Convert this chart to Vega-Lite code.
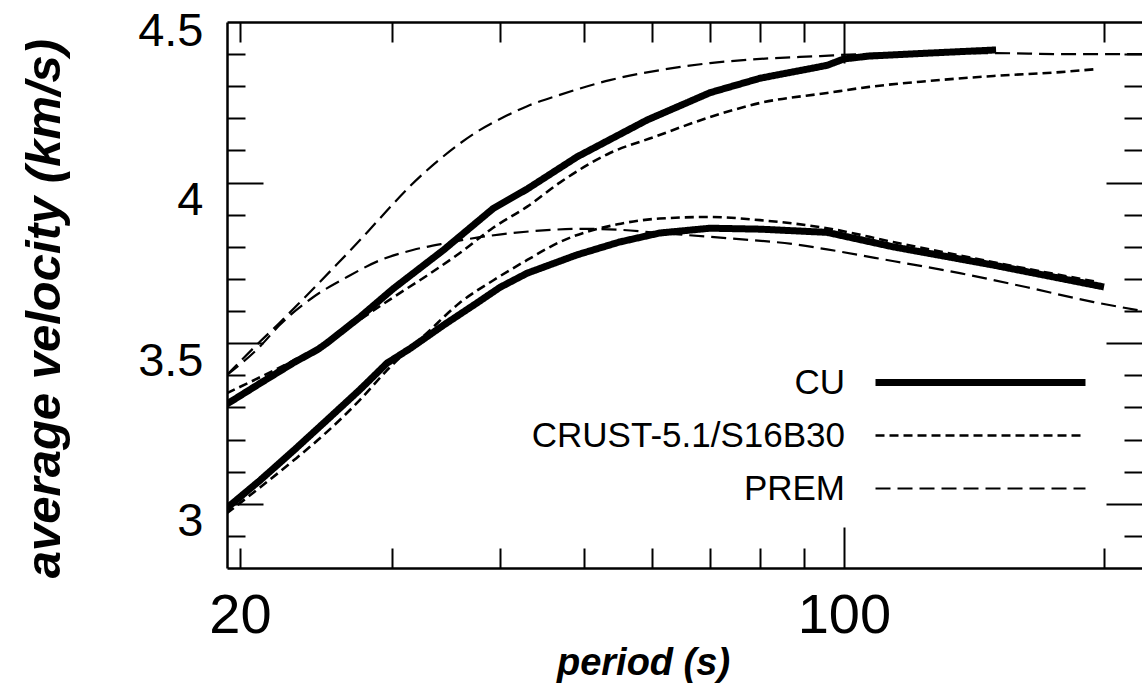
{
  "$schema": "https://vega.github.io/schema/vega-lite/v6.json",
  "width": 915,
  "height": 546,
  "autosize": {"type": "none"},
  "padding": {"left": 227, "top": 22, "right": 0, "bottom": 121},
  "background": "white",
  "config": {
    "view": {"stroke": null},
    "font": "Liberation Sans",
    "axis": {"grid": false, "labelColor": "black", "domainColor": "black", "tickColor": "black", "labelFlush": false, "labelOverlap": false, "labelBound": false, "labelFont": "Liberation Sans", "titleFont": "Liberation Sans", "titleColor": "black"},
    "legend": {"orient": "none", "legendX": 736, "legendY": 343, "title": null, "symbolType": "M-8,0H8", "symbolSize": 689, "symbolStrokeColor": "black", "symbolFillColor": "transparent", "labelAlign": "right", "labelOffset": -153, "labelFontSize": 35, "labelFont": "Liberation Sans", "labelColor": "black", "labelLimit": 500, "rowPadding": 17, "padding": 0}
  },
  "data": {"values": [
    {"model": "CU", "curve": "CU-upper", "period": 19.3, "velocity": 3.31},
    {"model": "CU", "curve": "CU-upper", "period": 21.1, "velocity": 3.375},
    {"model": "CU", "curve": "CU-upper", "period": 23.1, "velocity": 3.44},
    {"model": "CU", "curve": "CU-upper", "period": 24.6, "velocity": 3.48},
    {"model": "CU", "curve": "CU-upper", "period": 25.2, "velocity": 3.5},
    {"model": "CU", "curve": "CU-upper", "period": 27.5, "velocity": 3.58},
    {"model": "CU", "curve": "CU-upper", "period": 30.1, "velocity": 3.67},
    {"model": "CU", "curve": "CU-upper", "period": 32.9, "velocity": 3.75},
    {"model": "CU", "curve": "CU-upper", "period": 34.4, "velocity": 3.79},
    {"model": "CU", "curve": "CU-upper", "period": 39.3, "velocity": 3.92},
    {"model": "CU", "curve": "CU-upper", "period": 43, "velocity": 3.98},
    {"model": "CU", "curve": "CU-upper", "period": 49.1, "velocity": 4.08},
    {"model": "CU", "curve": "CU-upper", "period": 59.2, "velocity": 4.195},
    {"model": "CU", "curve": "CU-upper", "period": 70, "velocity": 4.28},
    {"model": "CU", "curve": "CU-upper", "period": 80, "velocity": 4.325},
    {"model": "CU", "curve": "CU-upper", "period": 95.6, "velocity": 4.365},
    {"model": "CU", "curve": "CU-upper", "period": 100, "velocity": 4.385},
    {"model": "CU", "curve": "CU-upper", "period": 107, "velocity": 4.394},
    {"model": "CU", "curve": "CU-upper", "period": 125, "velocity": 4.403},
    {"model": "CU", "curve": "CU-upper", "period": 150, "velocity": 4.413},

    {"model": "CU", "curve": "CU-lower", "period": 19.3, "velocity": 2.986},
    {"model": "CU", "curve": "CU-lower", "period": 21.1, "velocity": 3.073},
    {"model": "CU", "curve": "CU-lower", "period": 23.1, "velocity": 3.167},
    {"model": "CU", "curve": "CU-lower", "period": 25.2, "velocity": 3.26},
    {"model": "CU", "curve": "CU-lower", "period": 27.5, "velocity": 3.354},
    {"model": "CU", "curve": "CU-lower", "period": 29.6, "velocity": 3.438},
    {"model": "CU", "curve": "CU-lower", "period": 31.5, "velocity": 3.484},
    {"model": "CU", "curve": "CU-lower", "period": 34.4, "velocity": 3.556},
    {"model": "CU", "curve": "CU-lower", "period": 37.6, "velocity": 3.625},
    {"model": "CU", "curve": "CU-lower", "period": 40, "velocity": 3.674},
    {"model": "CU", "curve": "CU-lower", "period": 43, "velocity": 3.718},
    {"model": "CU", "curve": "CU-lower", "period": 49.1, "velocity": 3.775},
    {"model": "CU", "curve": "CU-lower", "period": 55, "velocity": 3.815},
    {"model": "CU", "curve": "CU-lower", "period": 61.2, "velocity": 3.843},
    {"model": "CU", "curve": "CU-lower", "period": 70, "velocity": 3.858},
    {"model": "CU", "curve": "CU-lower", "period": 80, "velocity": 3.855},
    {"model": "CU", "curve": "CU-lower", "period": 95.6, "velocity": 3.845},
    {"model": "CU", "curve": "CU-lower", "period": 114, "velocity": 3.8},
    {"model": "CU", "curve": "CU-lower", "period": 149, "velocity": 3.743},
    {"model": "CU", "curve": "CU-lower", "period": 200, "velocity": 3.675},

    {"model": "CRUST-5.1/S16B30", "curve": "CRUST-upper", "period": 19.3, "velocity": 3.344},
    {"model": "CRUST-5.1/S16B30", "curve": "CRUST-upper", "period": 21.1, "velocity": 3.394},
    {"model": "CRUST-5.1/S16B30", "curve": "CRUST-upper", "period": 23.1, "velocity": 3.447},
    {"model": "CRUST-5.1/S16B30", "curve": "CRUST-upper", "period": 25.2, "velocity": 3.5},
    {"model": "CRUST-5.1/S16B30", "curve": "CRUST-upper", "period": 27.5, "velocity": 3.572},
    {"model": "CRUST-5.1/S16B30", "curve": "CRUST-upper", "period": 30.1, "velocity": 3.643},
    {"model": "CRUST-5.1/S16B30", "curve": "CRUST-upper", "period": 32.9, "velocity": 3.71},
    {"model": "CRUST-5.1/S16B30", "curve": "CRUST-upper", "period": 35.9, "velocity": 3.78},
    {"model": "CRUST-5.1/S16B30", "curve": "CRUST-upper", "period": 39.3, "velocity": 3.86},
    {"model": "CRUST-5.1/S16B30", "curve": "CRUST-upper", "period": 43, "velocity": 3.925},
    {"model": "CRUST-5.1/S16B30", "curve": "CRUST-upper", "period": 46.9, "velocity": 4.0},
    {"model": "CRUST-5.1/S16B30", "curve": "CRUST-upper", "period": 53.6, "velocity": 4.092},
    {"model": "CRUST-5.1/S16B30", "curve": "CRUST-upper", "period": 60.3, "velocity": 4.142},
    {"model": "CRUST-5.1/S16B30", "curve": "CRUST-upper", "period": 70, "velocity": 4.204},
    {"model": "CRUST-5.1/S16B30", "curve": "CRUST-upper", "period": 80, "velocity": 4.248},
    {"model": "CRUST-5.1/S16B30", "curve": "CRUST-upper", "period": 95.6, "velocity": 4.279},
    {"model": "CRUST-5.1/S16B30", "curve": "CRUST-upper", "period": 107, "velocity": 4.298},
    {"model": "CRUST-5.1/S16B30", "curve": "CRUST-upper", "period": 125, "velocity": 4.316},
    {"model": "CRUST-5.1/S16B30", "curve": "CRUST-upper", "period": 149, "velocity": 4.332},
    {"model": "CRUST-5.1/S16B30", "curve": "CRUST-upper", "period": 178, "velocity": 4.344},
    {"model": "CRUST-5.1/S16B30", "curve": "CRUST-upper", "period": 197, "velocity": 4.354},

    {"model": "CRUST-5.1/S16B30", "curve": "CRUST-lower", "period": 19.3, "velocity": 2.97},
    {"model": "CRUST-5.1/S16B30", "curve": "CRUST-lower", "period": 21.1, "velocity": 3.051},
    {"model": "CRUST-5.1/S16B30", "curve": "CRUST-lower", "period": 23.1, "velocity": 3.136},
    {"model": "CRUST-5.1/S16B30", "curve": "CRUST-lower", "period": 25.2, "velocity": 3.223},
    {"model": "CRUST-5.1/S16B30", "curve": "CRUST-lower", "period": 27.5, "velocity": 3.322},
    {"model": "CRUST-5.1/S16B30", "curve": "CRUST-lower", "period": 29.6, "velocity": 3.416},
    {"model": "CRUST-5.1/S16B30", "curve": "CRUST-lower", "period": 32.9, "velocity": 3.531},
    {"model": "CRUST-5.1/S16B30", "curve": "CRUST-lower", "period": 35.9, "velocity": 3.625},
    {"model": "CRUST-5.1/S16B30", "curve": "CRUST-lower", "period": 39.3, "velocity": 3.696},
    {"model": "CRUST-5.1/S16B30", "curve": "CRUST-lower", "period": 43, "velocity": 3.759},
    {"model": "CRUST-5.1/S16B30", "curve": "CRUST-lower", "period": 46.9, "velocity": 3.815},
    {"model": "CRUST-5.1/S16B30", "curve": "CRUST-lower", "period": 54.7, "velocity": 3.87},
    {"model": "CRUST-5.1/S16B30", "curve": "CRUST-lower", "period": 61.2, "velocity": 3.888},
    {"model": "CRUST-5.1/S16B30", "curve": "CRUST-lower", "period": 70, "velocity": 3.893},
    {"model": "CRUST-5.1/S16B30", "curve": "CRUST-lower", "period": 80, "velocity": 3.883},
    {"model": "CRUST-5.1/S16B30", "curve": "CRUST-lower", "period": 95.6, "velocity": 3.858},
    {"model": "CRUST-5.1/S16B30", "curve": "CRUST-lower", "period": 114, "velocity": 3.815},
    {"model": "CRUST-5.1/S16B30", "curve": "CRUST-lower", "period": 149, "velocity": 3.752},
    {"model": "CRUST-5.1/S16B30", "curve": "CRUST-lower", "period": 197, "velocity": 3.69},

    {"model": "PREM", "curve": "PREM-upper", "period": 19.3, "velocity": 3.4},
    {"model": "PREM", "curve": "PREM-upper", "period": 21.1, "velocity": 3.505},
    {"model": "PREM", "curve": "PREM-upper", "period": 22.2, "velocity": 3.562},
    {"model": "PREM", "curve": "PREM-upper", "period": 23.6, "velocity": 3.634},
    {"model": "PREM", "curve": "PREM-upper", "period": 25.5, "velocity": 3.727},
    {"model": "PREM", "curve": "PREM-upper", "period": 27.3, "velocity": 3.81},
    {"model": "PREM", "curve": "PREM-upper", "period": 28.8, "velocity": 3.878},
    {"model": "PREM", "curve": "PREM-upper", "period": 31.5, "velocity": 3.99},
    {"model": "PREM", "curve": "PREM-upper", "period": 34.4, "velocity": 4.082},
    {"model": "PREM", "curve": "PREM-upper", "period": 37.6, "velocity": 4.158},
    {"model": "PREM", "curve": "PREM-upper", "period": 40.4, "velocity": 4.204},
    {"model": "PREM", "curve": "PREM-upper", "period": 43, "velocity": 4.238},
    {"model": "PREM", "curve": "PREM-upper", "period": 46.9, "velocity": 4.273},
    {"model": "PREM", "curve": "PREM-upper", "period": 53.6, "velocity": 4.319},
    {"model": "PREM", "curve": "PREM-upper", "period": 61.2, "velocity": 4.35},
    {"model": "PREM", "curve": "PREM-upper", "period": 70, "velocity": 4.372},
    {"model": "PREM", "curve": "PREM-upper", "period": 80, "velocity": 4.385},
    {"model": "PREM", "curve": "PREM-upper", "period": 93.9, "velocity": 4.394},
    {"model": "PREM", "curve": "PREM-upper", "period": 104.4, "velocity": 4.4},
    {"model": "PREM", "curve": "PREM-upper", "period": 125, "velocity": 4.403},
    {"model": "PREM", "curve": "PREM-upper", "period": 150, "velocity": 4.403},
    {"model": "PREM", "curve": "PREM-upper", "period": 178, "velocity": 4.4},
    {"model": "PREM", "curve": "PREM-upper", "period": 222, "velocity": 4.4},

    {"model": "PREM", "curve": "PREM-lower", "period": 19.3, "velocity": 3.4},
    {"model": "PREM", "curve": "PREM-lower", "period": 21.1, "velocity": 3.49},
    {"model": "PREM", "curve": "PREM-lower", "period": 22.2, "velocity": 3.555},
    {"model": "PREM", "curve": "PREM-lower", "period": 24.3, "velocity": 3.643},
    {"model": "PREM", "curve": "PREM-lower", "period": 26.6, "velocity": 3.706},
    {"model": "PREM", "curve": "PREM-lower", "period": 29.1, "velocity": 3.759},
    {"model": "PREM", "curve": "PREM-lower", "period": 31.7, "velocity": 3.79},
    {"model": "PREM", "curve": "PREM-lower", "period": 34.7, "velocity": 3.812},
    {"model": "PREM", "curve": "PREM-lower", "period": 37.9, "velocity": 3.83},
    {"model": "PREM", "curve": "PREM-lower", "period": 41.4, "velocity": 3.843},
    {"model": "PREM", "curve": "PREM-lower", "period": 45.3, "velocity": 3.852},
    {"model": "PREM", "curve": "PREM-lower", "period": 49.5, "velocity": 3.856},
    {"model": "PREM", "curve": "PREM-lower", "period": 55, "velocity": 3.853},
    {"model": "PREM", "curve": "PREM-lower", "period": 61.2, "velocity": 3.843},
    {"model": "PREM", "curve": "PREM-lower", "period": 73.2, "velocity": 3.827},
    {"model": "PREM", "curve": "PREM-lower", "period": 87.6, "velocity": 3.808},
    {"model": "PREM", "curve": "PREM-lower", "period": 95.6, "velocity": 3.792},
    {"model": "PREM", "curve": "PREM-lower", "period": 114.3, "velocity": 3.755},
    {"model": "PREM", "curve": "PREM-lower", "period": 136.2, "velocity": 3.718},
    {"model": "PREM", "curve": "PREM-lower", "period": 162.9, "velocity": 3.674},
    {"model": "PREM", "curve": "PREM-lower", "period": 194.6, "velocity": 3.628},
    {"model": "PREM", "curve": "PREM-lower", "period": 222, "velocity": 3.6}
  ]},
  "layer": [
    {
      "transform": [{"filter": "datum.model == 'CU'"}],
      "mark": {"type": "line", "clip": true, "color": "black"},
      "encoding": {
        "x": {
          "field": "period", "type": "quantitative",
          "scale": {"type": "log", "domain": [19.32, 221.3], "nice": false},
          "axis": {
            "orient": "bottom", "values": [20, 100], "format": "d",
            "ticks": false, "domain": true, "domainWidth": 2.5,
            "labelFontSize": 56, "labelPadding": 20, "labelBaseline": "top",
            "title": "period (s)", "titleFontSize": 38, "titleFontWeight": "bold", "titleFontStyle": "italic",
            "titleX": 416, "titleY": 106, "titleAlign": "center", "titleBaseline": "alphabetic"
          }
        },
        "y": {
          "field": "velocity", "type": "quantitative",
          "scale": {"domain": [2.8, 4.5], "nice": false, "zero": false},
          "axis": {
            "orient": "left", "values": [3, 3.5, 4, 4.5], "format": "~g",
            "ticks": false, "domain": true, "domainWidth": 2.5,
            "labelFontSize": 47, "labelPadding": 24, "labelBaseline": "top", "labelAlign": "right",
            "labelOffset": {"condition": {"test": "datum.value == 4.5", "value": -14}, "value": -5},
            "title": "average velocity (km/s)", "titleFontSize": 49, "titleFontWeight": "bold", "titleFontStyle": "italic",
            "titleX": -168, "titleY": 286, "titleAngle": -90, "titleAlign": "center", "titleBaseline": "alphabetic"
          }
        },
        "detail": {"field": "curve", "type": "nominal"},
        "strokeDash": {
          "field": "model", "type": "nominal",
          "scale": {"domain": ["CU", "CRUST-5.1/S16B30", "PREM"], "range": [[1, 0], [9, 5], [15, 7]]}
        },
        "strokeWidth": {
          "field": "model", "type": "nominal",
          "scale": {"type": "ordinal", "domain": ["CU", "CRUST-5.1/S16B30", "PREM"], "range": [7, 2.6, 2.2]}
        }
      }
    },
    {
      "transform": [{"filter": "datum.model != 'CU'"}],
      "mark": {"type": "line", "clip": true, "color": "black", "interpolate": "monotone"},
      "encoding": {
        "x": {"field": "period", "type": "quantitative", "axis": null},
        "y": {"field": "velocity", "type": "quantitative", "axis": null},
        "detail": {"field": "curve", "type": "nominal"},
        "strokeDash": {
          "field": "model", "type": "nominal",
          "scale": {"domain": ["CU", "CRUST-5.1/S16B30", "PREM"], "range": [[1, 0], [9, 5], [15, 7]]}
        },
        "strokeWidth": {
          "field": "model", "type": "nominal",
          "scale": {"type": "ordinal", "domain": ["CU", "CRUST-5.1/S16B30", "PREM"], "range": [7, 2.6, 2.2]}
        }
      }
    },
    {
      "mark": {"type": "point", "opacity": 0},
      "encoding": {
        "x": {
          "field": "period", "type": "quantitative",
          "axis": {
            "orient": "top", "values": [20, 30, 40, 50, 60, 70, 80, 90, 100, 200],
            "labels": false, "title": null, "domain": true, "domainWidth": 2.5,
            "ticks": true, "tickWidth": 2,
            "tickSize": {"condition": {"test": "datum.value == 100", "value": -41}, "value": -20}
          }
        },
        "y": {
          "field": "velocity", "type": "quantitative",
          "axis": {
            "orient": "right", "values": [2.9, 3, 3.1, 3.2, 3.3, 3.4, 3.5, 3.6, 3.7, 3.8, 3.9, 4, 4.1, 4.2, 4.3, 4.4],
            "labels": false, "title": null, "domain": false,
            "ticks": true, "tickWidth": 2,
            "tickSize": {"condition": {"test": "datum.value == 3 || datum.value == 3.5 || datum.value == 4", "value": -36}, "value": -18}
          }
        }
      }
    },
    {
      "mark": {"type": "point", "opacity": 0},
      "encoding": {
        "x": {
          "field": "period", "type": "quantitative",
          "axis": {
            "orient": "bottom", "values": [20, 30, 40, 50, 60, 70, 80, 90, 100, 200],
            "labels": false, "title": null, "domain": false,
            "ticks": true, "tickWidth": 2,
            "tickSize": {"condition": {"test": "datum.value == 100", "value": -41}, "value": -20}
          }
        },
        "y": {
          "field": "velocity", "type": "quantitative",
          "axis": {
            "orient": "left", "values": [2.9, 3, 3.1, 3.2, 3.3, 3.4, 3.5, 3.6, 3.7, 3.8, 3.9, 4, 4.1, 4.2, 4.3, 4.4],
            "labels": false, "title": null, "domain": false,
            "ticks": true, "tickWidth": 2,
            "tickSize": {"condition": {"test": "datum.value == 3 || datum.value == 3.5 || datum.value == 4", "value": -36}, "value": -18}
          }
        }
      }
    }
  ],
  "resolve": {"axis": {"x": "independent", "y": "independent"}}
}
